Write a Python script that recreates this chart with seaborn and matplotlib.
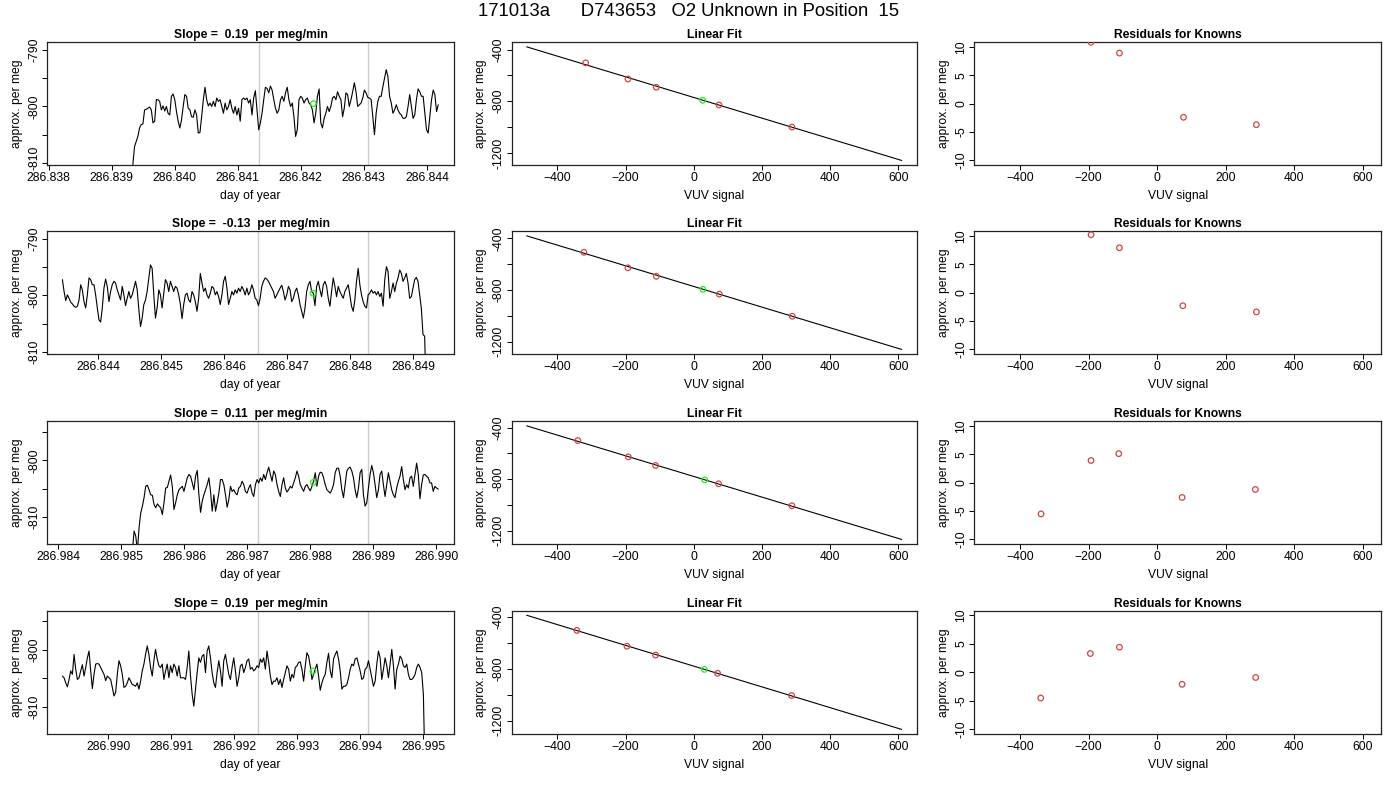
import numpy as np
import matplotlib
matplotlib.use("Agg")
import matplotlib.pyplot as plt
import matplotlib.transforms as mtrans
import seaborn as sns
from matplotlib.ticker import FixedLocator, FixedFormatter, MultipleLocator, FormatStrFormatter

# ---------------- data ----------------
suptitle = "171013a      D743653   O2 Unknown in Position  15"
slope_titles = ["Slope =  0.19  per meg/min", "Slope =  -0.13  per meg/min",
                "Slope =  0.11  per meg/min", "Slope =  0.19  per meg/min"]

# time series (day of year) start / end times for each row
ts_start = [286.83931, 286.84343, 286.98518, 286.98927]
ts_end = [286.84418, 286.84921, 286.99003, 286.99503]

ts_vals_1 = [-816, -810.3, -807.1, -806.2, -805.3, -803.8, -803.2, -803.1, -800.6, -800.5, -800.3, -800.1, -800.6,
             -802.9, -802.6, -798.8, -798.8, -799.1, -800.6, -799.9, -800.8, -800.0, -801.2, -801.5, -798.2, -797.8,
             -798.8, -800.9, -802.6, -803.8, -802.4, -800.0, -797.9, -798.2, -800.3, -800.6, -801.8, -801.9, -800.6,
             -801.5, -804.7, -804.6, -801.8, -798.8, -796.6, -798.8, -799.9, -799.4, -800.0, -799.1, -800.0, -798.5,
             -799.1, -798.8, -800.0, -801.2, -799.4, -800.6, -800.0, -798.8, -800.3, -801.2, -800.0, -801.5, -800.3,
             -802.6, -798.8, -798.5, -798.8, -798.5, -799.4, -798.8, -801.5, -798.5, -797.2, -800.6, -804.1, -802.9,
             -801.2, -798.8, -796.6, -796.8, -797.6, -796.4, -797.1, -798.8, -800.3, -801.2, -800.6, -798.8, -798.2,
             -799.1, -797.6, -796.6, -798.8, -800.0, -799.4, -801.8, -805.3, -804.1, -798.8, -798.2, -798.5, -799.4,
             -798.8, -798.5, -799.4, -799.7, -800.6, -802.9, -801.2, -798.2, -796.9, -802.9, -803.8, -802.1, -801.2,
             -800.0, -800.9, -800.0, -798.5, -798.2, -798.8, -797.4, -798.2, -798.8, -801.8, -800.3, -797.6, -797.9,
             -800.0, -798.8, -797.4, -795.8, -797.4, -800.0, -799.7, -799.4, -798.5, -797.1, -797.6, -798.4, -798.5,
             -798.8, -801.8, -805.0, -801.2, -799.1, -798.2, -798.2, -796.5, -795.0, -793.5, -794.7, -798.2, -799.4,
             -801.2, -800.6, -799.7, -800.6, -801.2, -801.5, -802.1, -802.1, -801.8, -800.0, -797.9, -800.0, -802.1,
             -801.5, -798.8, -796.9, -797.4, -798.2, -798.2, -801.2, -804.1, -804.7, -801.8, -798.8, -797.1, -797.9,
             -800.9, -799.7]

ts_vals_2 = [-797.2, -799.3, -800.9, -799.9, -800.5, -801.2, -801.5, -801.9, -802.1, -801.9, -800.8, -798.1, -799.0,
             -801.1, -802.2, -799.9, -796.9, -797.2, -798.1, -798.1, -799.9, -802.2, -804.3, -804.7, -802.2, -798.7,
             -797.1, -798.4, -801.1, -799.3, -798.1, -797.5, -797.8, -799.0, -799.9, -800.8, -798.4, -799.9, -801.8,
             -800.5, -799.3, -800.5, -799.9, -798.7, -797.5, -799.0, -802.5, -805.5, -804.0, -801.6, -800.8, -799.3,
             -796.9, -794.6, -795.2, -799.9, -804.0, -802.2, -799.0, -799.9, -802.2, -799.6, -797.2, -797.8, -799.3,
             -797.5, -798.4, -799.3, -798.4, -798.7, -799.9, -801.6, -804.1, -801.6, -799.9, -799.6, -800.8, -801.2,
             -799.3, -799.9, -801.1, -802.8, -800.5, -796.1, -797.8, -799.3, -798.7, -799.9, -800.5, -799.6, -798.4,
             -798.7, -799.9, -799.3, -800.2, -801.6, -799.9, -797.5, -796.6, -798.7, -801.6, -800.5, -799.3, -799.9,
             -799.0, -799.6, -798.7, -799.3, -798.4, -799.0, -799.9, -798.7, -799.9, -799.3, -798.1, -799.0, -800.5,
             -800.8, -801.8, -800.5, -798.4, -797.5, -796.9, -797.1, -797.5, -798.1, -798.7, -799.3, -800.5, -799.9,
             -799.3, -798.7, -798.2, -799.3, -800.8, -799.9, -798.4, -799.0, -801.1, -800.5, -799.3, -798.7, -799.9,
             -801.6, -802.8, -804.0, -802.2, -799.3, -798.1, -797.5, -799.3, -799.6, -801.8, -798.4, -797.5, -799.0,
             -800.2, -798.1, -797.5, -798.4, -800.5, -801.9, -799.3, -796.9, -798.4, -800.2, -798.4, -799.3, -799.9,
             -800.5, -799.3, -798.7, -798.1, -799.9, -801.9, -802.8, -800.8, -797.5, -795.2, -798.1, -799.9, -801.1,
             -801.9, -802.2, -799.9, -799.6, -799.0, -799.6, -799.3, -799.9, -799.3, -800.2, -799.6, -801.9, -797.2,
             -794.9, -795.8, -800.5, -799.3, -797.8, -799.3, -797.8, -796.9, -795.5, -796.1, -797.5, -796.9, -796.1,
             -797.8, -800.5, -800.2, -798.7, -797.2, -796.8, -797.5, -799.9, -802.2, -806.9, -807.2, -818.0]

ts_vals_3 = [-816.0, -812.5, -813.4, -816.0, -811.9, -809.3, -808.1, -806.6, -804.6, -804.4, -805.2, -806.1, -806.2,
             -807.8, -808.4, -807.7, -808.1, -808.4, -809.6, -807.5, -804.9, -804.8, -803.7, -802.6, -804.6, -808.7,
             -807.5, -806.1, -805.2, -804.9, -804.6, -805.5, -804.3, -803.1, -802.5, -802.8, -804.0, -805.2, -802.8,
             -801.8, -806.1, -809.2, -807.2, -806.1, -805.2, -804.3, -803.1, -805.5, -809.0, -806.1, -809.0, -807.5,
             -805.8, -803.4, -803.4, -804.3, -806.1, -808.3, -806.9, -804.6, -805.5, -805.2, -805.8, -806.1, -804.9,
             -804.6, -803.7, -804.3, -805.5, -805.8, -804.9, -804.3, -805.8, -806.4, -804.3, -803.4, -804.0, -803.1,
             -803.7, -802.5, -803.4, -802.2, -801.2, -802.5, -803.7, -801.9, -802.5, -804.3, -805.5, -806.4, -804.3,
             -803.1, -804.9, -805.6, -805.2, -804.6, -804.9, -804.0, -803.1, -801.9, -802.8, -804.3, -804.9, -805.5,
             -804.6, -804.3, -804.9, -805.4, -804.6, -803.7, -802.2, -804.6, -802.8, -802.1, -802.2, -803.1, -804.3,
             -805.2, -805.5, -805.8, -805.2, -804.3, -802.2, -801.4, -801.4, -802.8, -805.2, -806.6, -804.3, -801.9,
             -801.4, -801.2, -801.9, -803.1, -805.2, -806.6, -804.9, -802.2, -801.6, -806.1, -808.1, -807.5, -804.9,
             -802.5, -800.9, -802.2, -804.3, -806.6, -805.2, -802.5, -801.9, -804.3, -806.4, -804.3, -802.2, -803.7,
             -805.2, -806.1, -806.6, -804.9, -803.7, -802.8, -801.1, -803.4, -805.2, -804.3, -804.9, -803.1, -802.8,
             -804.6, -802.5, -800.5, -802.5, -806.8, -804.3, -802.6, -802.5, -802.8, -803.1, -804.0, -804.0, -805.5,
             -804.6, -804.9, -805.1]

ts_vals_4 = [-804.6, -804.9, -805.8, -806.5, -805.2, -803.7, -804.3, -800.8, -803.4, -805.2, -804.9, -803.7, -802.6,
             -804.6, -803.1, -801.4, -800.2, -803.7, -806.8, -804.3, -802.5, -802.4, -802.5, -803.1, -803.7, -804.3,
             -805.4, -804.6, -804.9, -805.2, -806.6, -808.1, -807.5, -804.3, -801.9, -802.8, -804.3, -806.6, -806.4,
             -805.8, -804.9, -805.5, -806.1, -806.2, -806.4, -805.8, -806.9, -805.5, -803.7, -802.5, -800.8, -799.3,
             -800.8, -803.1, -804.6, -801.9, -799.9, -801.6, -802.8, -803.1, -802.5, -805.2, -803.7, -802.5, -804.9,
             -802.8, -804.0, -802.5, -803.1, -804.6, -802.8, -804.9, -804.9, -804.9, -805.2, -803.1, -800.2, -804.6,
             -807.8, -809.9, -806.9, -804.0, -801.4, -802.2, -801.1, -800.8, -804.0, -800.2, -799.3, -801.4, -804.0,
             -805.8, -806.6, -804.0, -801.9, -803.7, -806.4, -801.9, -800.8, -802.5, -804.3, -805.2, -803.1, -801.4,
             -803.7, -806.4, -804.9, -802.8, -802.5, -804.0, -803.1, -801.9, -801.6, -803.4, -803.1, -803.7, -803.4,
             -802.8, -803.1, -801.6, -802.2, -801.4, -803.4, -800.2, -802.2, -804.6, -806.1, -805.5, -805.5, -804.9,
             -806.1, -805.2, -806.6, -805.2, -804.0, -802.8, -803.4, -805.5, -804.3, -804.9, -803.1, -802.8, -802.2,
             -802.1, -803.4, -805.5, -802.8, -800.5, -801.1, -802.8, -805.2, -804.3, -803.4, -802.5, -804.6, -807.1,
             -805.8, -804.9, -804.3, -802.2, -800.6, -803.7, -804.9, -801.6, -800.8, -800.2, -801.6, -803.7, -806.9,
             -806.4, -806.4, -806.1, -804.9, -803.4, -802.5, -802.8, -801.6, -801.4, -802.5, -803.7, -805.2, -804.9,
             -803.4, -803.1, -801.9, -803.4, -804.9, -806.4, -805.5, -802.5, -800.2, -801.4, -805.2, -803.4, -801.4,
             -802.8, -804.9, -802.5, -799.9, -802.8, -806.9, -803.4, -802.5, -801.1, -801.6, -802.8, -803.1, -802.5,
             -804.3, -805.2, -805.2, -804.9, -804.3, -803.1, -802.5, -803.1, -804.0, -807.8, -822.0]

ts_vals = [ts_vals_1, ts_vals_2, ts_vals_3, ts_vals_4]

# gray vertical marker lines (day of year)
vline_times = [[286.84133, 286.84306], [286.84654, 286.84828],
               [286.98717, 286.98891], [286.99238, 286.99413]]
# green unknown marker on the time series
green_t = [286.84220, 286.84741, 286.98805, 286.99325]
green_v = [-799.5, -799.6, -803.9, -803.7]

# linear fit panels
known_x = [[-317, -193, -110, 74, 288], [-322, -193, -110, 75, 289],
           [-340, -192, -112, 73, 288], [-343, -196, -112, 70, 287]]
known_y = [[-503, -628, -692, -829, -1000], [-507, -627, -693, -831, -1002],
           [-501, -627, -694, -836, -1006], [-503, -625, -693, -834, -1005]]
unknown_x = [26, 27, 32, 31]
unknown_y = [-793, -794, -805, -804]
fit_intercept = [-770.8, -771.5, -779.0, -778.5]
fit_slope = [-0.7996, -0.7996, -0.8000, -0.8000]
fit_xrange = [-490, 610]

# residuals for knowns
resid_x = [[-317, -193, -110, 77, 290], [-322, -193, -110, 75, 290],
           [-339, -193, -112, 73, 287], [-340, -195, -110, 73, 288]]
resid_y = [[13.5, 10.8, 8.9, -2.4, -3.7], [13.0, 10.2, 7.9, -2.3, -3.4],
           [-5.5, 3.9, 5.1, -2.6, -1.2], [-4.5, 3.3, 4.4, -2.1, -0.9]]

# axis ranges of the time series panels
ts_xlim = [(286.83798, 286.84443), (286.84319, 286.84965),
           (286.98383, 286.99028), (286.98903, 286.99549)]
ts_ylim = [(-810.35, -788.65), (-810.35, -788.65), (-814.8, -793.1), (-814.8, -793.1)]
ts_yticks = [[-810, -805, -800, -795, -790], [-810, -805, -800, -795, -790],
             [-810, -805, -800, -795], [-810, -805, -800, -795]]
ts_ylabels = [["-810", "", "-800", "", "-790"], ["-810", "", "-800", "", "-790"],
              ["-810", "", "-800", ""], ["-810", "", "-800", ""]]

# ---------------- style ----------------
sns.set_theme(style="white")
plt.rcParams["font.family"] = ["Liberation Sans", "DejaVu Sans"]
plt.rcParams.update({
    "axes.edgecolor": "#222222",
    "axes.linewidth": 0.9,
    "xtick.color": "black",
    "ytick.color": "black",
    "text.color": "black",
    "axes.labelcolor": "black",
})

FS = 8.7
RED = "#D04545"
GREEN = "#22EE22"
LW = 0.8

fig = plt.figure(figsize=(14, 8), dpi=100)
W, H = 1400.0, 800.0
col_lr = [(47.3, 454.0), (511.7, 916.7), (974.3, 1381.0)]
row_tb = [(42.3, 165.0), (231.3, 354.0), (421.3, 544.0), (610.7, 734.0)]


def make_ax(r, c):
    l, rr = col_lr[c]
    t, b = row_tb[r]
    ax = fig.add_axes([l / W, 1 - b / H, (rr - l) / W, (b - t) / H])
    ax.tick_params(direction="out", length=3.6, width=0.7, labelsize=FS, pad=1.5,
                   bottom=True, left=True, top=False, right=False)
    for s in ax.spines.values():
        s.set_visible(True)
    return ax


def style_yticklabels(ax):
    for lab in ax.get_yticklabels():
        lab.set_rotation(90)
        lab.set_va("center")


def expand(lo, hi, f=0.04):
    d = (hi - lo) * f
    return lo - d, hi + d


ts_axes = []
for r in range(4):
    # ---- time series ----
    ax = make_ax(r, 0)
    ts_axes.append(ax)
    vals = np.array(ts_vals[r])
    times = np.linspace(ts_start[r], ts_end[r], len(vals))
    for vt in vline_times[r]:
        ax.axvline(vt, color="#CCCCCC", lw=1.0, zorder=1)
    sns.lineplot(x=times, y=vals, ax=ax, color="black", lw=LW, sort=False,
                 estimator=None, zorder=2)
    sns.scatterplot(x=[green_t[r]], y=[green_v[r]], ax=ax, marker="o", s=16,
                    facecolor="none", edgecolor=GREEN, linewidth=0.9, zorder=3)
    ax.set_xlim(*ts_xlim[r])
    ax.set_ylim(*ts_ylim[r])
    ax.xaxis.set_major_locator(MultipleLocator(0.001))
    ax.xaxis.set_major_formatter(FormatStrFormatter("%.3f"))
    ax.yaxis.set_major_locator(FixedLocator(ts_yticks[r]))
    ax.yaxis.set_major_formatter(FixedFormatter(ts_ylabels[r]))
    style_yticklabels(ax)
    ax.set_xlabel("day of year", fontsize=FS, labelpad=4)
    ax.set_ylabel("approx. per meg", fontsize=FS, labelpad=4)
    ax.set_title(slope_titles[r], fontsize=FS, fontweight="bold", pad=3)

    # ---- linear fit ----
    ax = make_ax(r, 1)
    lx = np.array(fit_xrange, dtype=float)
    ly = fit_intercept[r] + fit_slope[r] * lx
    sns.lineplot(x=lx, y=ly, ax=ax, color="black", lw=LW, zorder=2)
    sns.scatterplot(x=known_x[r], y=known_y[r], ax=ax, marker="o", s=16,
                    facecolor="none", edgecolor=RED, linewidth=0.9, zorder=3)
    sns.scatterplot(x=[unknown_x[r]], y=[unknown_y[r]], ax=ax, marker="o", s=16,
                    facecolor="none", edgecolor=GREEN, linewidth=0.9, zorder=4)
    xl = expand(lx.min(), lx.max())
    ax.set_xlim(*xl)
    ax.set_ylim(*expand(ly.min(), ly.max()))
    ax.set_xticks([-400, -200, 0, 200, 400, 600])
    ax.yaxis.set_major_locator(FixedLocator([-1200, -1000, -800, -600, -400]))
    ax.yaxis.set_major_formatter(FixedFormatter(["-1200", "", "-800", "", "-400"]))
    style_yticklabels(ax)
    ax.set_xlabel("VUV signal", fontsize=FS, labelpad=4)
    ax.set_ylabel("approx. per meg", fontsize=FS, labelpad=4)
    ax.set_title("Linear Fit", fontsize=FS, fontweight="bold", pad=3)

    # ---- residuals ----
    ax = make_ax(r, 2)
    sns.scatterplot(x=resid_x[r], y=resid_y[r], ax=ax, marker="o", s=16,
                    facecolor="none", edgecolor=RED, linewidth=0.9, zorder=3)
    ax.set_xlim(*xl)
    ax.set_ylim(*expand(-10, 10))
    ax.set_xticks([-400, -200, 0, 200, 400, 600])
    ax.set_yticks([-10, -5, 0, 5, 10])
    ax.set_yticklabels(["-10", "-5", "0", "5", "10"])
    style_yticklabels(ax)
    ax.set_xlabel("VUV signal", fontsize=FS, labelpad=4)
    ax.set_ylabel("approx. per meg", fontsize=FS, labelpad=4)
    ax.set_title("Residuals for Knowns", fontsize=FS, fontweight="bold", pad=3)

# nudge the lowest y label of the first panel up so it clears the first x label
lab = ts_axes[0].get_yticklabels()[0]
lab.set_transform(lab.get_transform() + mtrans.ScaledTranslation(0, 5 / 100, fig.dpi_scale_trans))

fig.text(0.492, 1 - 12 / H, suptitle, ha="center", va="center", fontsize=13.3)

fig.savefig("out.png", dpi=100)
